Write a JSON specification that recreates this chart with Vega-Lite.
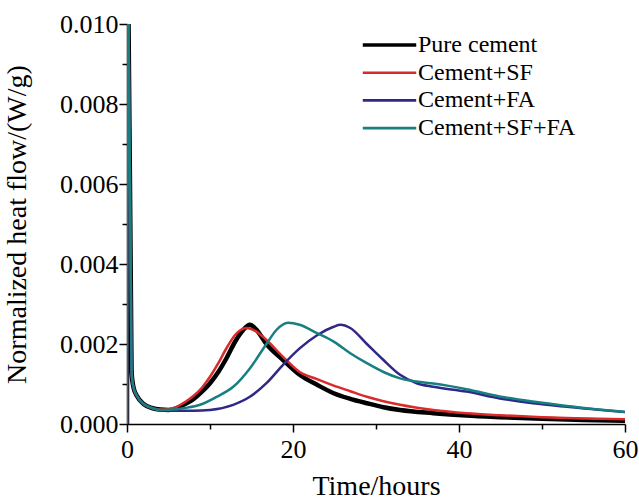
{
  "$schema": "https://vega.github.io/schema/vega-lite/v6.json",
  "width": 498,
  "height": 400,
  "autosize": {"type": "none"},
  "padding": {"left": 127, "top": 24, "right": 14, "bottom": 75},
  "background": "white",
  "config": {
    "view": {"stroke": null},
    "font": "Liberation Serif",
    "axis": {"grid": false, "domainColor": "#000", "domainWidth": 1.5, "tickColor": "#000", "tickWidth": 1.5, "labelColor": "#000", "titleColor": "#000", "labelFont": "Liberation Serif", "titleFont": "Liberation Serif", "labelFontSize": 26, "titleFontSize": 28, "titleFontWeight": "normal"}
  },
  "data": {"values": [
    {"s":"Pure cement","t":0,"v":0},{"s":"Pure cement","t":0.1,"v":0.012},{"s":"Pure cement","t":0.55,"v":0.0013},{"s":"Pure cement","t":0.8,"v":0.0009},{"s":"Pure cement","t":1.2,"v":0.0007},{"s":"Pure cement","t":2,"v":0.0005},{"s":"Pure cement","t":3,"v":0.0004},
    {"s":"Pure cement","t":4,"v":0.00036},{"s":"Pure cement","t":5,"v":0.00035},{"s":"Pure cement","t":6,"v":0.0004},{"s":"Pure cement","t":7,"v":0.0005},{"s":"Pure cement","t":8,"v":0.00062},{"s":"Pure cement","t":9,"v":0.0008},{"s":"Pure cement","t":10,"v":0.00102},{"s":"Pure cement","t":11,"v":0.0013},{"s":"Pure cement","t":12,"v":0.00165},{"s":"Pure cement","t":13,"v":0.00205},{"s":"Pure cement","t":14,"v":0.00235},{"s":"Pure cement","t":14.8,"v":0.00248},{"s":"Pure cement","t":15.5,"v":0.00238},{"s":"Pure cement","t":16.8,"v":0.002},{"s":"Pure cement","t":18.8,"v":0.0016},{"s":"Pure cement","t":20.8,"v":0.00123},{"s":"Pure cement","t":22.9,"v":0.00098},{"s":"Pure cement","t":24.9,"v":0.00077},{"s":"Pure cement","t":26.9,"v":0.00063},{"s":"Pure cement","t":28.9,"v":0.00052},{"s":"Pure cement","t":30.9,"v":0.00042},{"s":"Pure cement","t":32.9,"v":0.00035},{"s":"Pure cement","t":36.9,"v":0.00027},{"s":"Pure cement","t":40.9,"v":0.00021},{"s":"Pure cement","t":44.9,"v":0.00017},{"s":"Pure cement","t":50,"v":0.00013},{"s":"Pure cement","t":55,"v":0.0001},{"s":"Pure cement","t":60,"v":0.00008},
    {"s":"Cement+SF","t":0,"v":0},{"s":"Cement+SF","t":0.1,"v":0.012},{"s":"Cement+SF","t":0.55,"v":0.0013},{"s":"Cement+SF","t":0.8,"v":0.0009},{"s":"Cement+SF","t":1.2,"v":0.0007},{"s":"Cement+SF","t":2,"v":0.0005},{"s":"Cement+SF","t":3,"v":0.0004},
    {"s":"Cement+SF","t":4,"v":0.00036},{"s":"Cement+SF","t":5,"v":0.00037},{"s":"Cement+SF","t":6,"v":0.00043},{"s":"Cement+SF","t":7,"v":0.00055},{"s":"Cement+SF","t":8,"v":0.0007},{"s":"Cement+SF","t":9,"v":0.0009},{"s":"Cement+SF","t":10,"v":0.00118},{"s":"Cement+SF","t":11,"v":0.00152},{"s":"Cement+SF","t":12,"v":0.0019},{"s":"Cement+SF","t":13,"v":0.00222},{"s":"Cement+SF","t":14.4,"v":0.0024},{"s":"Cement+SF","t":15.5,"v":0.00232},{"s":"Cement+SF","t":16.8,"v":0.0021},{"s":"Cement+SF","t":18.8,"v":0.00168},{"s":"Cement+SF","t":20.8,"v":0.0013},{"s":"Cement+SF","t":22.9,"v":0.00112},{"s":"Cement+SF","t":24.9,"v":0.00096},{"s":"Cement+SF","t":26.9,"v":0.00082},{"s":"Cement+SF","t":28.9,"v":0.00068},{"s":"Cement+SF","t":30.9,"v":0.00057},{"s":"Cement+SF","t":32.9,"v":0.00048},{"s":"Cement+SF","t":36.9,"v":0.00035},{"s":"Cement+SF","t":40.9,"v":0.00027},{"s":"Cement+SF","t":44.9,"v":0.00022},{"s":"Cement+SF","t":50,"v":0.00017},{"s":"Cement+SF","t":55,"v":0.00014},{"s":"Cement+SF","t":60,"v":0.00012},
    {"s":"Cement+FA","t":0,"v":0},{"s":"Cement+FA","t":0.1,"v":0.012},{"s":"Cement+FA","t":0.55,"v":0.0013},{"s":"Cement+FA","t":0.8,"v":0.0009},{"s":"Cement+FA","t":1.2,"v":0.0007},{"s":"Cement+FA","t":2,"v":0.0005},{"s":"Cement+FA","t":3,"v":0.0004},
    {"s":"Cement+FA","t":4,"v":0.00034},{"s":"Cement+FA","t":6,"v":0.00033},{"s":"Cement+FA","t":8,"v":0.00033},{"s":"Cement+FA","t":10,"v":0.00035},{"s":"Cement+FA","t":12.8,"v":0.00048},{"s":"Cement+FA","t":14.8,"v":0.00068},{"s":"Cement+FA","t":16.8,"v":0.00102},{"s":"Cement+FA","t":18.8,"v":0.00148},{"s":"Cement+FA","t":20.8,"v":0.00189},{"s":"Cement+FA","t":22.9,"v":0.00222},{"s":"Cement+FA","t":24.9,"v":0.00243},{"s":"Cement+FA","t":25.7,"v":0.00248},{"s":"Cement+FA","t":26.9,"v":0.0024},{"s":"Cement+FA","t":28.9,"v":0.002},{"s":"Cement+FA","t":30.9,"v":0.0016},{"s":"Cement+FA","t":32.9,"v":0.00123},{"s":"Cement+FA","t":34.9,"v":0.00102},{"s":"Cement+FA","t":36.9,"v":0.00093},{"s":"Cement+FA","t":40.9,"v":0.00081},{"s":"Cement+FA","t":44.9,"v":0.00064},{"s":"Cement+FA","t":48.9,"v":0.00052},{"s":"Cement+FA","t":53,"v":0.00043},{"s":"Cement+FA","t":60,"v":0.0003},
    {"s":"Cement+SF+FA","t":0,"v":0},{"s":"Cement+SF+FA","t":0.1,"v":0.012},{"s":"Cement+SF+FA","t":0.55,"v":0.0013},{"s":"Cement+SF+FA","t":0.8,"v":0.0009},{"s":"Cement+SF+FA","t":1.2,"v":0.0007},{"s":"Cement+SF+FA","t":2,"v":0.0005},{"s":"Cement+SF+FA","t":3,"v":0.0004},
    {"s":"Cement+SF+FA","t":4,"v":0.00035},{"s":"Cement+SF+FA","t":6,"v":0.00037},{"s":"Cement+SF+FA","t":7,"v":0.0004},{"s":"Cement+SF+FA","t":8.8,"v":0.00048},{"s":"Cement+SF+FA","t":10.8,"v":0.00068},{"s":"Cement+SF+FA","t":12.8,"v":0.00093},{"s":"Cement+SF+FA","t":14.8,"v":0.00139},{"s":"Cement+SF+FA","t":16.8,"v":0.002},{"s":"Cement+SF+FA","t":18,"v":0.00235},{"s":"Cement+SF+FA","t":19.4,"v":0.00253},{"s":"Cement+SF+FA","t":20.8,"v":0.00248},{"s":"Cement+SF+FA","t":22.9,"v":0.00227},{"s":"Cement+SF+FA","t":24.9,"v":0.00206},{"s":"Cement+SF+FA","t":26.9,"v":0.00177},{"s":"Cement+SF+FA","t":28.9,"v":0.00152},{"s":"Cement+SF+FA","t":30.9,"v":0.0013},{"s":"Cement+SF+FA","t":32.9,"v":0.00114},{"s":"Cement+SF+FA","t":34.9,"v":0.00106},{"s":"Cement+SF+FA","t":36.9,"v":0.00101},{"s":"Cement+SF+FA","t":40.9,"v":0.00087},{"s":"Cement+SF+FA","t":44.9,"v":0.00069},{"s":"Cement+SF+FA","t":48.9,"v":0.00056},{"s":"Cement+SF+FA","t":53,"v":0.00045},{"s":"Cement+SF+FA","t":60,"v":0.0003}
  ]},
  "mark": {"type": "line", "clip": true, "interpolate": "monotone"},
  "encoding": {
    "x": {"field": "t", "type": "quantitative", "title": "Time/hours",
      "scale": {"domain": [0, 60], "nice": false, "zero": false},
      "axis": {"values": [0,10,20,30,40,50,60], "labelExpr": "datum.value % 20 === 0 ? datum.label : ''", "tickSize": {"condition": {"test": "datum.value % 20 === 0", "value": 8}, "value": 5}, "labelPadding": 4, "titlePadding": 10, "labelFlush": false}},
    "y": {"field": "v", "type": "quantitative", "title": "Normalized heat flow/(W/g)",
      "scale": {"domain": [0, 0.01], "nice": false},
      "axis": {"values": [0,0.001,0.002,0.003,0.004,0.005,0.006,0.007,0.008,0.009,0.01], "labelExpr": "round(datum.value*1000) % 2 === 0 ? format(datum.value, '.3f') : ''", "tickSize": {"condition": {"test": "round(datum.value*1000) % 2 === 0", "value": 8}, "value": 5}, "labelPadding": 1, "titlePadding": 28, "labelFlush": false}},
    "color": {"field": "s", "type": "nominal",
      "scale": {"domain": ["Pure cement","Cement+SF","Cement+FA","Cement+SF+FA"], "range": ["#000000","#d92b2b","#2f2887","#177f80"]},
      "legend": {"title": null, "orient": "none", "legendX": 234, "legendY": 9, "symbolType": "stroke", "symbolSize": 2857, "clipHeight": 24, "labelFont": "Liberation Serif", "labelFontSize": 24, "labelColor": "#000", "rowPadding": 3.7, "labelOffset": 0, "labelLimit": 300,
        "encode": {"symbols": {"update": {"strokeWidth": {"signal": "(datum.label === 'Pure cement' ? 3.5 : 2.6)"}}}}}},
    "strokeWidth": {"condition": {"test": "datum.s === 'Pure cement'", "value": 4.5}, "value": 2.5}
  }
}
